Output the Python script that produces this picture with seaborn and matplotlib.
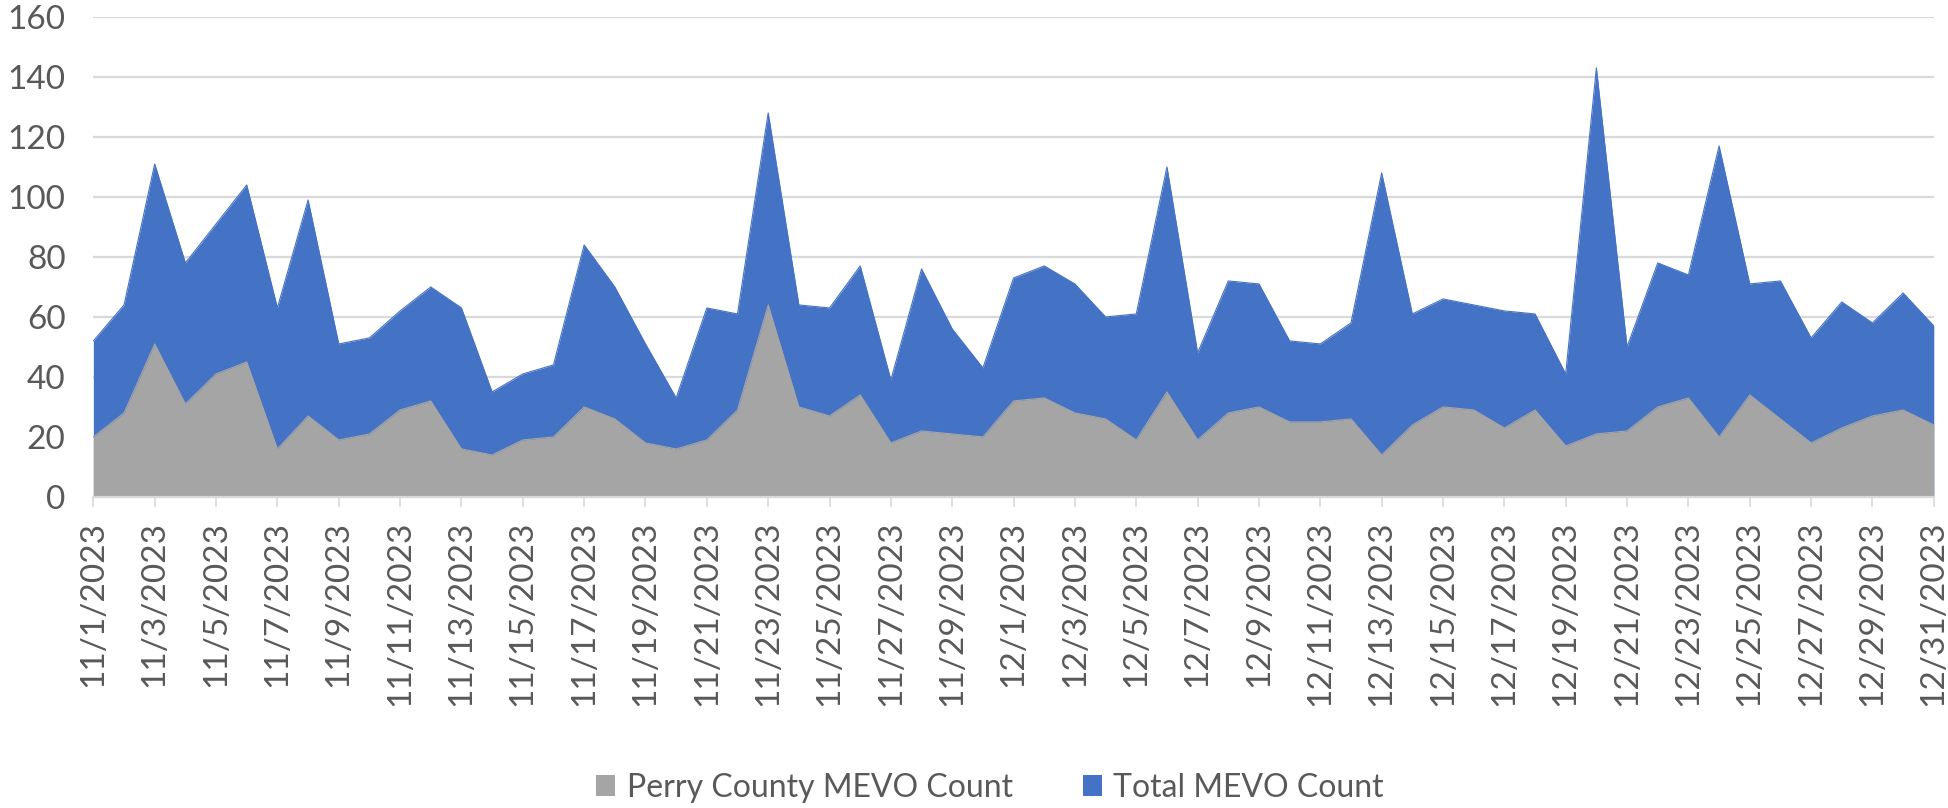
import pandas as pd
import matplotlib
matplotlib.use("Agg")
import matplotlib.pyplot as plt
import seaborn as sns
from matplotlib.patches import Patch

# --- data ---
dates = pd.date_range("2023-11-01", "2023-12-31", freq="D")
date_labels = [f"{d.month}/{d.day}/{d.year}" for d in dates]

total_mevo = [52, 64, 111, 78, 91, 104, 63, 99, 51, 53,
              62, 70, 63, 35, 41, 44, 84, 70, 51, 33,
              63, 61, 128, 64, 63, 77, 39, 76, 56, 43,
              73, 77, 71, 60, 61, 110, 48, 72, 71, 52,
              51, 58, 108, 61, 66, 64, 62, 61, 41, 143,
              50, 78, 74, 117, 71, 72, 53, 65, 58, 68,
              57]
perry_mevo = [20, 28, 51, 31, 41, 45, 16, 27, 19, 21,
              29, 32, 16, 14, 19, 20, 30, 26, 18, 16,
              19, 29, 64, 30, 27, 34, 18, 22, 21, 20,
              32, 33, 28, 26, 19, 35, 19, 28, 30, 25,
              25, 26, 14, 24, 30, 29, 23, 29, 17, 21,
              22, 30, 33, 20, 34, 26, 18, 23, 27, 29,
              24]

series_names = ["Perry County MEVO Count", "Total MEVO Count"]
colors = {"Perry County MEVO Count": "#A5A5A5", "Total MEVO Count": "#4472C4"}

df = pd.DataFrame({"day": range(len(dates)),
                   "Total MEVO Count": total_mevo,
                   "Perry County MEVO Count": perry_mevo})
df_long = df.melt(id_vars="day", var_name="series", value_name="count")

# --- style ---
sns.set_theme(style="white")
plt.rcParams["font.family"] = ["Lato", "DejaVu Sans"]
text_color = "#595959"
grid_color = "#D9D9D9"

fig = plt.figure(figsize=(19.49, 8.08), dpi=100)
ax = fig.add_axes([0.0479, 0.385, 0.9443, 0.594])

# outlines via seaborn, then fill down to zero (total behind, perry in front)
sns.lineplot(data=df_long, x="day", y="count", hue="series",
             hue_order=["Total MEVO Count", "Perry County MEVO Count"],
             palette=colors, linewidth=0.8, legend=False, ax=ax, zorder=3)
for name, z in [("Total MEVO Count", 2), ("Perry County MEVO Count", 4)]:
    sub = df_long[df_long["series"] == name]
    ax.fill_between(sub["day"], 0, sub["count"], color=colors[name],
                    linewidth=0, zorder=z)

ax.set_xlim(0, len(dates) - 1)
ax.set_ylim(0, 160)
ax.set_yticks(range(0, 161, 20))
ax.yaxis.grid(True, color=grid_color, linewidth=1.6, zorder=0)
ax.set_axisbelow(True)

ax.set_xticks(df["day"][::2])
ax.set_xticklabels(date_labels[::2], rotation=90)
ax.set_xlabel("")
ax.set_ylabel("")

for side in ["top", "right", "left"]:
    ax.spines[side].set_visible(False)
ax.spines["bottom"].set_color(grid_color)
ax.spines["bottom"].set_linewidth(1.6)
ax.spines["bottom"].set_zorder(5)

ax.tick_params(axis="x", colors=text_color, labelsize=24, length=7,
               width=1.2, color=grid_color, pad=10, bottom=True)
ax.tick_params(axis="y", colors=text_color, labelsize=24, length=0, pad=20)

# --- legend ---
legend_elements = [Patch(facecolor=colors[n], edgecolor="none", label=n)
                   for n in series_names]
fig.legend(handles=legend_elements, loc="center", bbox_to_anchor=(0.508, 0.025),
           ncol=2, frameon=False, fontsize=23, labelcolor=text_color,
           handlelength=0.6, handleheight=0.6, handletextpad=0.35,
           columnspacing=2.2)

plt.savefig("out.png", dpi=100, facecolor="white")
plt.close()
